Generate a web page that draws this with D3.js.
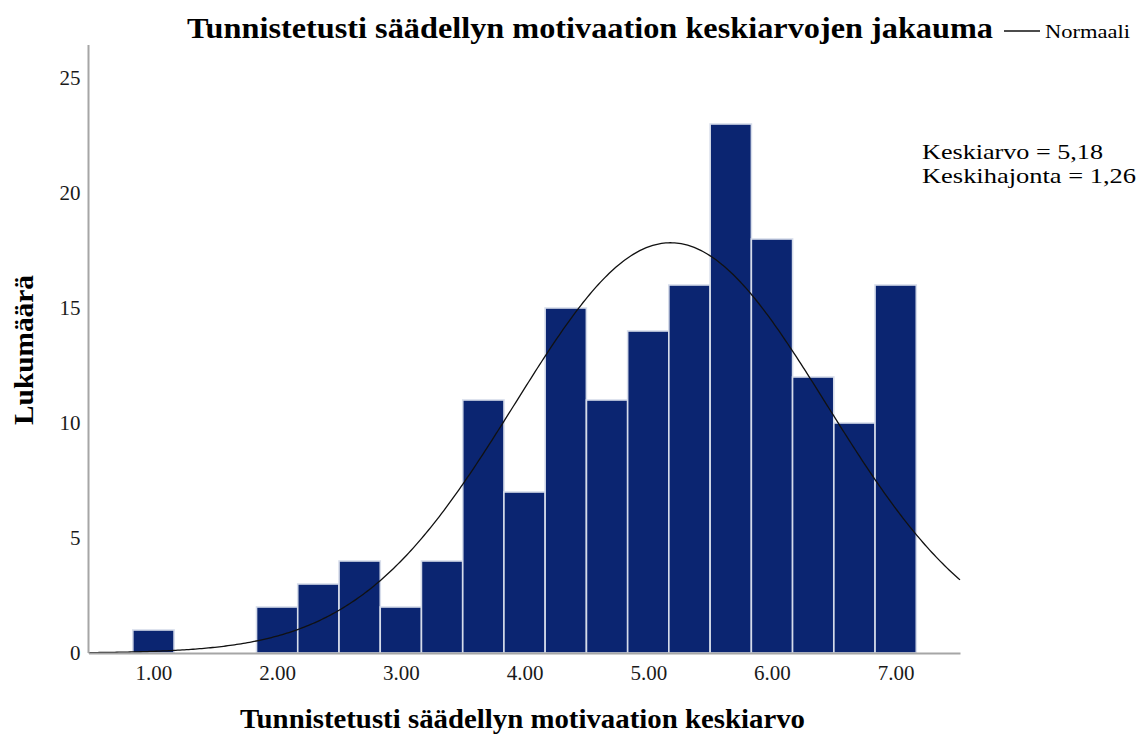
<!DOCTYPE html>
<html>
<head>
<meta charset="utf-8">
<script src="https://cdn.jsdelivr.net/npm/d3@7"></script>
<style>
  html, body { margin: 0; padding: 0; background: #fff; }
  svg { display: block; font-family: "Liberation Serif", "Times New Roman", serif; }
</style>
</head>
<body>
<svg id="chart" width="1142" height="734"></svg>
<script>
// Histogram bins (centre of each 1/3-wide bin) and their counts
const binCenters = [1.000, 1.333, 1.667, 2.000, 2.333, 2.667, 3.000, 3.333, 3.667,
                    4.000, 4.333, 4.667, 5.000, 5.333, 5.667, 6.000, 6.333, 6.667, 7.000];
const binCounts  = [1, 0, 0, 2, 3, 4, 2, 4, 11, 7, 15, 11, 14, 16, 23, 18, 12, 10, 16];
const binWidth = 1 / 3;

// Summary statistics shown in the annotation and used for the normal curve
const meanValue = 5.18;
const sdValue = 1.26;

const xTicks = [1, 2, 3, 4, 5, 6, 7];
const xTickLabels = ["1.00", "2.00", "3.00", "4.00", "5.00", "6.00", "7.00"];
const yTicks = [0, 5, 10, 15, 20, 25];

const titleText = "Tunnistetusti säädellyn motivaation keskiarvojen jakauma";
const xLabelText = "Tunnistetusti säädellyn motivaation keskiarvo";
const yLabelText = "Lukumäärä";
const legendText = "Normaali";
const statLines = ["Keskiarvo = 5,18", "Keskihajonta = 1,26"];
const statWidths = [181, 214];

const svg = d3.select("#chart");

const x = d3.scaleLinear().domain([0.475, 7.52]).range([88.5, 960]);
const y = d3.scaleLinear().domain([0, 25]).range([653, 78]);

const axisColor = "#a6a6a6";
const barFill = "#0b2571";
const barStroke = "#d6dcea";

// Bars
svg.append("g")
  .selectAll("rect")
  .data(binCenters.map((c, i) => ({ c, n: binCounts[i] })).filter(d => d.n > 0))
  .join("rect")
  .attr("x", d => x(d.c - binWidth / 2))
  .attr("width", d => x(d.c + binWidth / 2) - x(d.c - binWidth / 2))
  .attr("y", d => y(d.n))
  .attr("height", d => y(0) - y(d.n))
  .attr("fill", barFill)
  .attr("stroke", barStroke)
  .attr("stroke-width", 1.6);

// Fitted normal curve scaled to counts
const total = d3.sum(binCounts);
const normalPdf = v => Math.exp(-0.5 * ((v - meanValue) / sdValue) ** 2) / (sdValue * Math.sqrt(2 * Math.PI));
const curvePts = d3.range(0, 401).map(i => {
  const v = x.domain()[0] + (x.domain()[1] - x.domain()[0]) * i / 400;
  return [v, total * binWidth * normalPdf(v)];
});
svg.append("path")
  .datum(curvePts)
  .attr("fill", "none")
  .attr("stroke", "#111")
  .attr("stroke-width", 1.3)
  .attr("d", d3.line().x(d => x(d[0])).y(d => y(d[1])));

// X axis
const xAxis = svg.append("g")
  .attr("transform", `translate(0,${y(0)})`)
  .call(d3.axisBottom(x).tickValues(xTicks).tickFormat((d, i) => xTickLabels[i]).tickSize(0).tickPadding(12));
xAxis.select(".domain").attr("stroke", axisColor).attr("stroke-width", 2);
xAxis.selectAll("text").attr("font-family", "Liberation Serif").attr("font-size", 21).attr("fill", "#1a1a1a");

// Y axis
const yAxis = svg.append("g")
  .attr("transform", `translate(${x.range()[0]},0)`)
  .call(d3.axisLeft(y).tickValues(yTicks).tickSize(0).tickPadding(8));
yAxis.select(".domain").attr("d", `M0,45V${y(0)}`).attr("stroke", axisColor).attr("stroke-width", 2);
yAxis.selectAll("text").attr("font-family", "Liberation Serif").attr("font-size", 21).attr("fill", "#1a1a1a");

// Title
svg.append("text")
  .attr("x", 187).attr("y", 38)
  .attr("font-size", 29).attr("font-weight", "bold")
  .attr("textLength", 806).attr("lengthAdjust", "spacingAndGlyphs")
  .text(titleText);

// Legend
svg.append("line")
  .attr("x1", 1004).attr("x2", 1040).attr("y1", 31).attr("y2", 31)
  .attr("stroke", "#111").attr("stroke-width", 1.3);
svg.append("text")
  .attr("x", 1045).attr("y", 38)
  .attr("font-size", 19)
  .attr("textLength", 85).attr("lengthAdjust", "spacingAndGlyphs")
  .text(legendText);

// Statistics annotation
svg.append("g").selectAll("text")
  .data(statLines)
  .join("text")
  .attr("x", 922)
  .attr("y", (d, i) => 159 + i * 23.5)
  .attr("font-size", 21)
  .attr("textLength", (d, i) => statWidths[i]).attr("lengthAdjust", "spacingAndGlyphs")
  .text(d => d);

// Axis titles
svg.append("text")
  .attr("x", 240).attr("y", 728)
  .attr("font-size", 27).attr("font-weight", "bold")
  .attr("textLength", 565).attr("lengthAdjust", "spacingAndGlyphs")
  .text(xLabelText);

svg.append("text")
  .attr("transform", "translate(33,350) rotate(-90)")
  .attr("text-anchor", "middle")
  .attr("font-size", 27).attr("font-weight", "bold")
  .attr("textLength", 150).attr("lengthAdjust", "spacingAndGlyphs")
  .text(yLabelText);
</script>
</body>
</html>
